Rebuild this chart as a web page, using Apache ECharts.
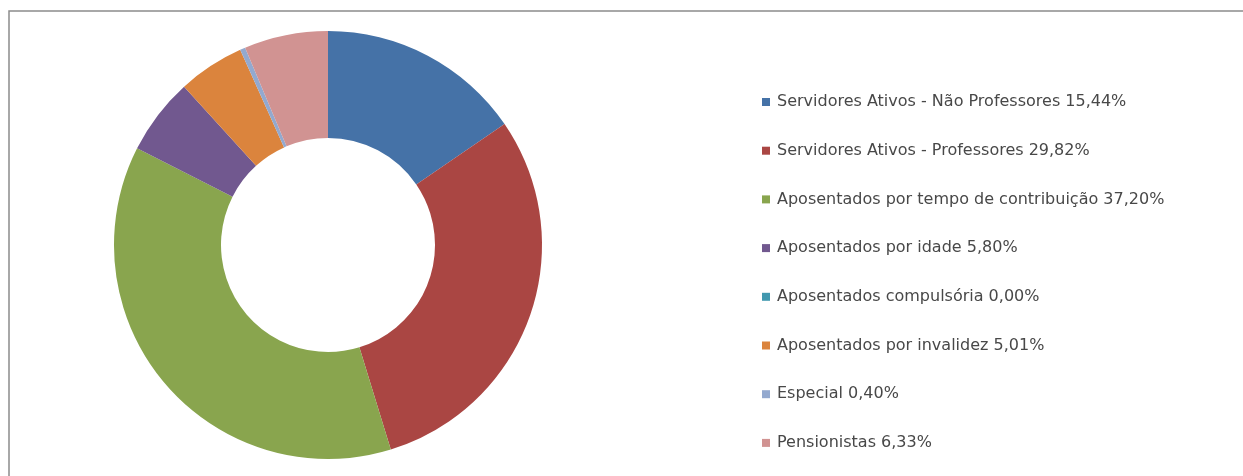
<!DOCTYPE html>
<html>
<head>
<meta charset="utf-8">
<script src="https://cdn.jsdelivr.net/npm/echarts@6/dist/echarts.min.js"></script>
<style>
html,body{margin:0;padding:0;background:#fff;}
#chart{width:1243px;height:476px;}
</style>
</head>
<body>
<div id="chart"></div>
<script>
const categories = [
  'Servidores Ativos - Não Professores',
  'Servidores Ativos - Professores',
  'Aposentados por tempo de contribuição',
  'Aposentados por idade',
  'Aposentados compulsória',
  'Aposentados por invalidez',
  'Especial',
  'Pensionistas'
];
const values = [15.44, 29.82, 37.20, 5.80, 0.00, 5.01, 0.40, 6.33];
const colors = ['#4572A7', '#AA4643', '#89A54E', '#71588F', '#4198AF', '#DB843D', '#93A9CF', '#D19392'];

const fmt = v => v.toFixed(2).replace('.', ',') + '%';
const lookup = {};
categories.forEach((c, i) => lookup[c] = values[i]);

const chart = echarts.init(document.getElementById('chart'), null, {renderer: 'canvas'});
chart.setOption({
  animation: false,
  color: colors,
  graphic: [{
    type: 'rect',
    shape: {x: 9, y: 11, width: 1250, height: 480},
    style: {fill: 'none', stroke: '#8c8c8c', lineWidth: 1.5},
    silent: true
  }],
  legend: {
    orient: 'vertical',
    left: 757,
    top: 89,
    icon: 'rect',
    itemWidth: 8,
    itemHeight: 8,
    itemGap: 32.7,
    textStyle: {fontFamily: 'DejaVu Sans', fontSize: 16, color: '#484848', lineHeight: 16, padding: [0, 0, 0, 2]},
    formatter: name => name + ' ' + fmt(lookup[name]),
    data: categories
  },
  series: [{
    type: 'pie',
    center: [328, 245],
    radius: [107, 214],
    startAngle: 90,
    clockwise: true,
    avoidLabelOverlap: false,
    label: {show: false},
    labelLine: {show: false},
    itemStyle: {borderWidth: 0},
    emphasis: {disabled: true},
    data: categories.map((c, i) => ({name: c, value: values[i]}))
  }]
});
</script>
</body>
</html>
